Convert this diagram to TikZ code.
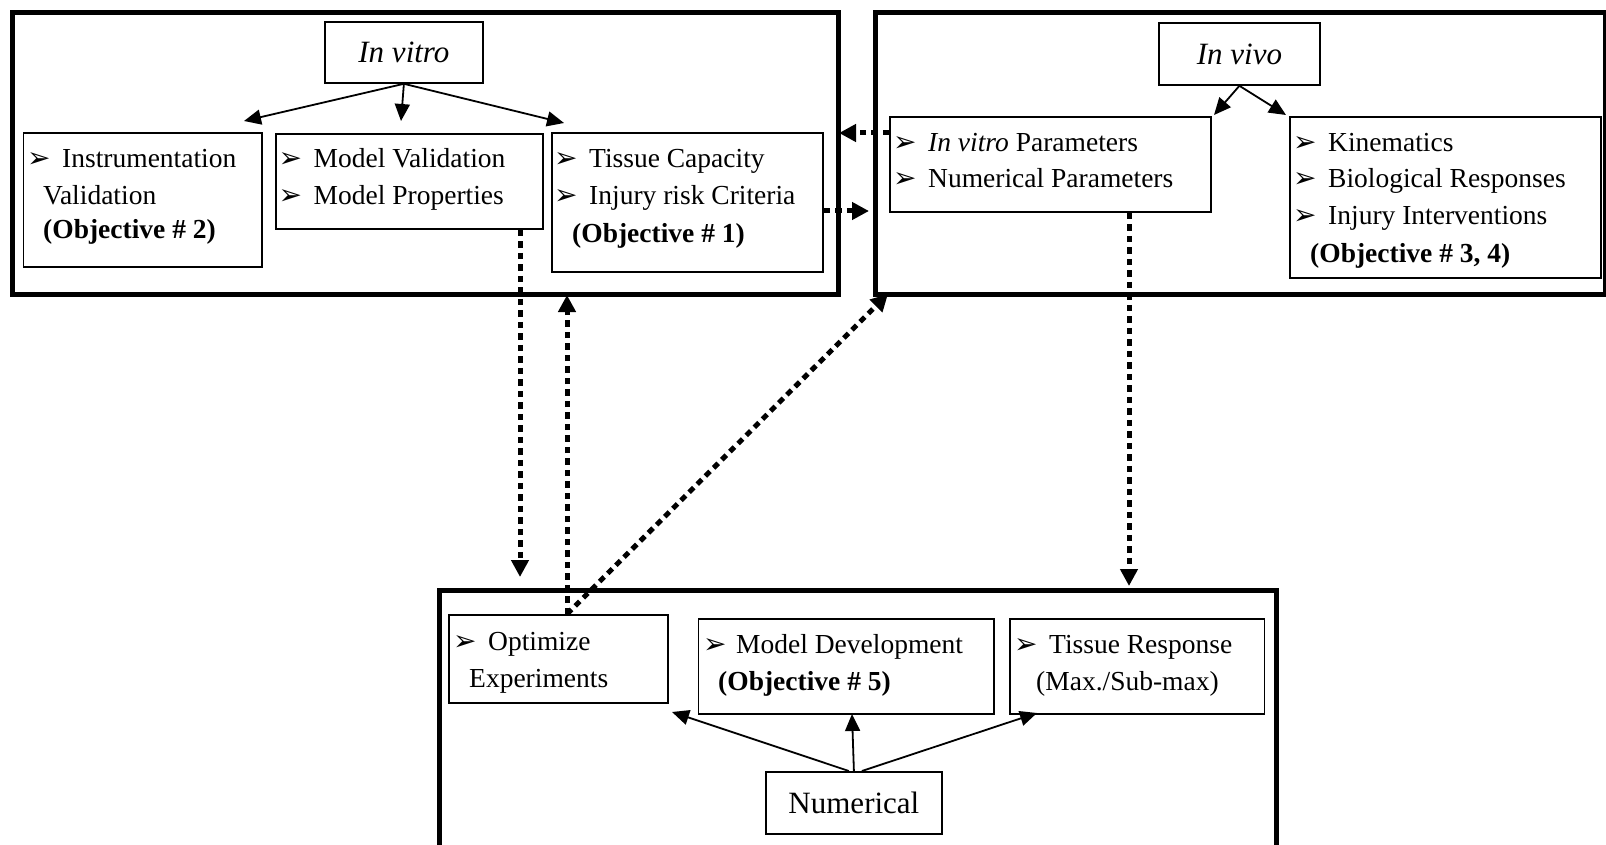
\documentclass[tikz,border=0pt]{standalone}
\usepackage{fontspec}
\setmainfont{Liberation Serif}
\newfontfamily\dejavu{DejaVu Sans}
\usetikzlibrary{arrows.meta,calc}
\newcommand{\bulglyph}{\dejavu\fontsize{28}{30}\selectfont ➢}
\newcommand{\bul}{\makebox[35pt][l]{\bulglyph}}
\begin{document}
\begin{tikzpicture}[x=1pt,y=-1pt,
  outer/.style={draw, line width=5pt, inner sep=0pt, anchor=north west},
  box/.style={draw, line width=1.8pt, inner sep=0pt, anchor=north west},
  ttl/.style={box, font=\fontsize{31}{36}\selectfont},
  txt/.style={inner sep=0pt, anchor=base west, font=\fontsize{27.5}{33}\selectfont},
  solidarrow/.style={line width=1.8pt, -{Triangle[length=17pt,width=15pt]}},
  dotarrow/.style={line width=5pt, dash pattern=on 6.5pt off 5pt, -{Triangle[length=17pt,width=17pt]}},
]
\useasboundingbox (0,0) rectangle (1606,845);
\clip (0,0) rectangle (1606,845);

% outer boxes
\node[outer, minimum width=826pt, minimum height=282pt] (leftouter) at (10,10) {};
\node[outer, minimum width=730pt, minimum height=282pt] (rightouter) at (873,10) {};
\node[outer, minimum width=836.5pt, minimum height=290pt] (bottomouter) at (437,588) {};

% in vitro group
\node[ttl, minimum width=158pt, minimum height=61pt] (invitro) at (324,21) {\itshape In vitro};
\node[box, minimum width=238.5pt, minimum height=134pt] (instr) at (22.5,132) {};
\node[box, minimum width=267pt, minimum height=95pt] (modelval) at (275,133) {};
\node[box, minimum width=271pt, minimum height=139pt] (tissuecap) at (551,132) {};

\node[txt] (l1) at (27,168) {\bul Instrumentation};
\node[txt] (l2) at (43,205) {Validation};
\node[txt] (l3) at (43,239) {\textbf{(Objective \# 2)}};
\node[txt] (m1) at (278.5,168) {\bul Model Validation};
\node[txt] (m2) at (278.5,205) {\bul Model Properties};
\node[txt] (r1) at (554,168) {\bul Tissue Capacity};
\node[txt] (r2) at (554,205) {\bul Injury risk Criteria};
\node[txt] (r3) at (572,243) {\textbf{(Objective \# 1)}};

% in vivo group
\node[ttl, minimum width=161pt, minimum height=62pt] (invivo) at (1158,22) {\itshape In vivo};
\node[box, minimum width=321pt, minimum height=95pt] (params) at (889,116) {};
\node[box, minimum width=311pt, minimum height=161pt] (kin) at (1289,116) {};

\node[txt] (p1) at (893,152) {\bul\textit{In vitro} Parameters};
\node[txt] (p2) at (893,188) {\bul Numerical Parameters};
\node[txt] (k1) at (1293,152) {\bul Kinematics};
\node[txt] (k2) at (1293,188) {\bul Biological Responses};
\node[txt] (k3) at (1293,225) {\bul Injury Interventions};
\node[txt] (k4) at (1310,262) {\textbf{(Objective \# 3, 4)}};

% numerical group
\node[ttl, minimum width=176pt, minimum height=62pt] (numerical) at (765,771) {Numerical};
\node[box, minimum width=219pt, minimum height=88pt] (opt) at (448,614) {};
\node[box, minimum width=295.5pt, minimum height=95pt] (moddev) at (697.5,618) {};
\node[box, minimum width=254.5pt, minimum height=95pt] (tissresp) at (1009,618) {};

\node[txt] (o1) at (453,650) {\bul Optimize};
\node[txt] (o2) at (469,687) {Experiments};
\node[txt] (md1) at (703,653) {\makebox[33pt][l]{\bulglyph}Model Development};
\node[txt] (md2) at (718,690) {\textbf{(Objective \# 5)}};
\node[txt] (tr1) at (1014,653) {\bul Tissue Response};
\node[txt] (tr2) at (1036,690) {(Max./Sub-max)};

% free ends
\coordinate (a1) at (244,121);
\coordinate (a2) at (401,121);
\coordinate (a3) at (564,123);
\coordinate (b1) at (1214,115);
\coordinate (b2) at (1286,115);
\coordinate (c1) at (672,712);
\coordinate (c2) at (852,714);
\coordinate (c3) at (1037,713);
\coordinate (d1) at (520,577);
\coordinate (d2) at (567,295);
\coordinate (d3) at (888,294);
\coordinate (d4) at (1129,586);
\coordinate (d5) at (839,133);
\coordinate (d6) at (869,211);

% solid arrows
\draw[solidarrow] (invitro.south) -- (a1);
\draw[solidarrow] (invitro.south) -- (a2);
\draw[solidarrow] (invitro.south) -- (a3);
\draw[solidarrow] (invivo.south) -- (b1);
\draw[solidarrow] (invivo.south) -- (b2);
\draw[solidarrow] ($(numerical.north)+(-5,0)$) -- (c1);
\draw[solidarrow] (numerical.north) -- (c2);
\draw[solidarrow] ($(numerical.north)+(8,0)$) -- (c3);

% dotted arrows
\draw[dotarrow] (modelval.south -| d1) -- (d1);
\draw[dotarrow] (opt.north -| d2) -- (d2);
\draw[dotarrow] (opt.north -| d2) -- (d3);
\draw[dotarrow] (params.south -| d4) -- (d4);
\draw[dotarrow] (params.west |- d5) -- (d5);
\draw[dotarrow] (tissuecap.east |- d6) -- (d6);
\end{tikzpicture}
\end{document}
